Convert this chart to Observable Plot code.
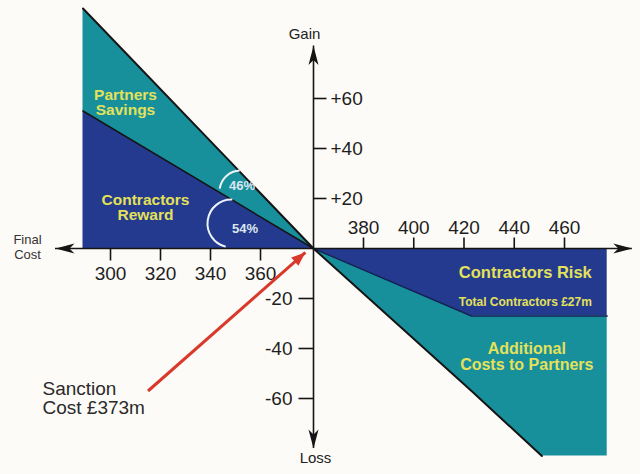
<!DOCTYPE html>
<html><head><meta charset="utf-8">
<script src="https://cdn.jsdelivr.net/npm/d3@7"></script>
<script src="https://cdn.jsdelivr.net/npm/@observablehq/plot@0.6"></script>
<style>
  html,body{margin:0;padding:0;background:#fdfbf7;}
</style>
</head><body><div id="chart"></div>
<script>
// ---- data (final cost in £m, gain/loss in £m) ----
const sanctionCost = 373;
const leftCost = [289, 373];
const partnersSavingsTop = [96, 0];
const contractorsRewardTop = [55, 0];
const rightCost = [373, 423, 451, 477];
const contractorsRiskBottom = [0, -27, -27, -27];
const partnersCostBottom = [0, -57, -83, -83];
const costTicksLeft = [300, 320, 340, 360];
const costTicksRight = [380, 400, 420, 440, 460];
const gainTicks = [20, 40, 60];
const lossTicks = [-20, -40, -60];
const axisCostExtent = [278, 487];
const axisValueExtent = [-80, 81];

const regionLabels = [
  {text: "Partners\nSavings", x: 306, y: 58.4, size: 15.5},
  {text: "Contractors\nReward", x: 314, y: 16.4, size: 15.5},
  {text: "Contractors Risk", x: 444.4, y: -9.6, size: 16.5},
  {text: "Additional\nCosts to Partners", x: 445, y: -43.2, size: 16}
];
const shareLabels = [
  {text: "46%", x: 352.6, y: 25.2},
  {text: "54%", x: 353.8, y: 7.8}
];
const shareArcs = [
  {x: 352, y: 22.8, r: 21, a0: 188, a1: 268},
  {x: 348.4, y: 10, r: 24, a0: 104, a1: 272}
];
const sanctionArrow = {x1: 315, y1: -57, x2: 371, y2: -1.6, angle: 49};

// ---- tables for the library ----
const left = leftCost.map((x, i) => ({x, top: partnersSavingsTop[i], mid: contractorsRewardTop[i]}));
const right = rightCost.map((x, i) => ({x, mid: contractorsRiskBottom[i], bot: partnersCostBottom[i]}));

const teal = "#17909b", navy = "#233a8e", ink = "#151515", yellow = "#e4e15a";
const font = "Liberation Sans, Arial, Helvetica, sans-serif";

const arrowHead = {draw(ctx) { ctx.moveTo(0, 0); ctx.lineTo(5, 19); ctx.lineTo(0, 14); ctx.lineTo(-5, 19); ctx.closePath(); }};
const redHead = {draw(ctx) { ctx.moveTo(0, 0); ctx.lineTo(5.5, 14); ctx.lineTo(-5.5, 14); ctx.closePath(); }};
const seg = (dx, dy) => ({draw(ctx) { ctx.moveTo(0, 0); ctx.lineTo(dx, dy); }});
const arcSym = (r, a0, a1) => ({draw(ctx) { ctx.arc(0, 0, r, a0 * Math.PI / 180, a1 * Math.PI / 180, false); }});

const chart = Plot.plot({
  width: 640,
  height: 474,
  style: {background: "#fdfbf7", fontFamily: font},
  x: {type: "linear", domain: [300, 360, sanctionCost, 380, 460], range: [110, 260, 313, 363, 564], axis: null},
  y: {type: "linear", domain: [-80, 96], range: [448, 8], axis: null},
  marks: [
    Plot.areaY(left, {x: "x", y1: "mid", y2: "top", fill: teal}),
    Plot.areaY(left, {x: "x", y1: 0, y2: "mid", fill: navy}),
    Plot.areaY(right, {x: "x", y1: "mid", y2: 0, fill: navy}),
    Plot.areaY(right, {x: "x", y1: "bot", y2: "mid", fill: teal}),
    Plot.line(left, {x: "x", y: "top", stroke: ink, strokeWidth: 2}),
    Plot.line(left, {x: "x", y: "mid", stroke: ink, strokeWidth: 1.5}),
    Plot.line(right, {x: "x", y: "mid", stroke: "#142056", strokeWidth: 1.5}),
    Plot.line(right.slice(0, 3), {x: "x", y: "bot", stroke: ink, strokeWidth: 2}),
    // decorative share arcs
    ...shareArcs.map(a => Plot.dot([a], {x: "x", y: "y", symbol: arcSym(a.r, a.a0, a.a1), stroke: "#eef3f8", strokeWidth: 2, fill: "none"})),
    Plot.text(shareLabels, {x: "x", y: "y", text: "text", fill: "#dbe6f1", fontSize: 13, fontWeight: "bold"}),
    // axes
    Plot.ruleY([0], {x1: axisCostExtent[0], x2: axisCostExtent[1], stroke: ink, strokeWidth: 1.6}),
    Plot.ruleX([sanctionCost], {y1: axisValueExtent[0], y2: axisValueExtent[1], stroke: ink, strokeWidth: 1.6}),
    Plot.dot([
      {x: sanctionCost, y: axisValueExtent[1], r: 0},
      {x: sanctionCost, y: axisValueExtent[0], r: 180},
      {x: axisCostExtent[0], y: 0, r: -90},
      {x: axisCostExtent[1], y: 0, r: 90}
    ], {x: "x", y: "y", rotate: "r", symbol: arrowHead, fill: ink, stroke: "none"}),
    Plot.dot(costTicksLeft, {x: d => d, y: 0, symbol: seg(0, 12), stroke: ink, strokeWidth: 1.6}),
    Plot.dot(costTicksRight, {x: d => d, y: 0, symbol: seg(0, -11), stroke: ink, strokeWidth: 1.6}),
    Plot.dot(gainTicks, {x: sanctionCost, y: d => d, symbol: seg(13, 0), stroke: ink, strokeWidth: 1.6}),
    Plot.dot(lossTicks, {x: sanctionCost, y: d => d, symbol: seg(-15, 0), stroke: ink, strokeWidth: 1.6}),
    Plot.text(costTicksLeft, {x: d => d, y: 0, dy: 25, text: d => `${d}`, fontSize: 19, fill: "#1e1e1e"}),
    Plot.text(costTicksRight, {x: d => d, y: 0, dy: -21, text: d => `${d}`, fontSize: 19, fill: "#1e1e1e"}),
    Plot.text(gainTicks, {x: sanctionCost, y: d => d, dx: 17, textAnchor: "start", text: d => `+${d}`, fontSize: 19, fill: "#1e1e1e"}),
    Plot.text(lossTicks, {x: sanctionCost, y: d => d, dx: -21, textAnchor: "end", text: d => `${d}`, fontSize: 19, fill: "#1e1e1e"}),
    Plot.text(["Gain"], {x: sanctionCost, y: axisValueExtent[1], dx: -9, dy: -12, text: d => d, fontSize: 15, fill: "#222"}),
    Plot.text(["Loss"], {x: sanctionCost, y: axisValueExtent[0], dx: 2, dy: 10, text: d => d, fontSize: 15, fill: "#222"}),
    Plot.text(["Final\nCost"], {x: axisCostExtent[0], y: 0, dx: -28, dy: -2, text: d => d, fontSize: 13, lineHeight: 1.2, fill: "#333"}),
    // region labels
    ...regionLabels.map(l => Plot.text([l], {x: "x", y: "y", text: "text", fill: yellow, fontSize: l.size, fontWeight: "bold", lineHeight: 1.02})),
    Plot.text(["Total Contractors £27m"], {x: 444.4, y: -21.6, text: d => d, fill: yellow, fontSize: 12, fontWeight: "bold"}),
    // sanction cost annotation
    Plot.link([sanctionArrow], {x1: "x1", y1: "y1", x2: "x2", y2: "y2", stroke: "#d8392b", strokeWidth: 3}),
    Plot.dot([sanctionArrow], {x: "x2", y: "y2", rotate: "angle", symbol: redHead, fill: "#d8392b", stroke: "none"}),
    Plot.text(["Sanction\nCost £373m"], {x: 272.8, y: -60, text: d => d, textAnchor: "start", fontSize: 19, lineHeight: 1.02, fill: "#2a2a2a"})
  ]
});
document.getElementById("chart").appendChild(chart);
</script>
</body></html>
